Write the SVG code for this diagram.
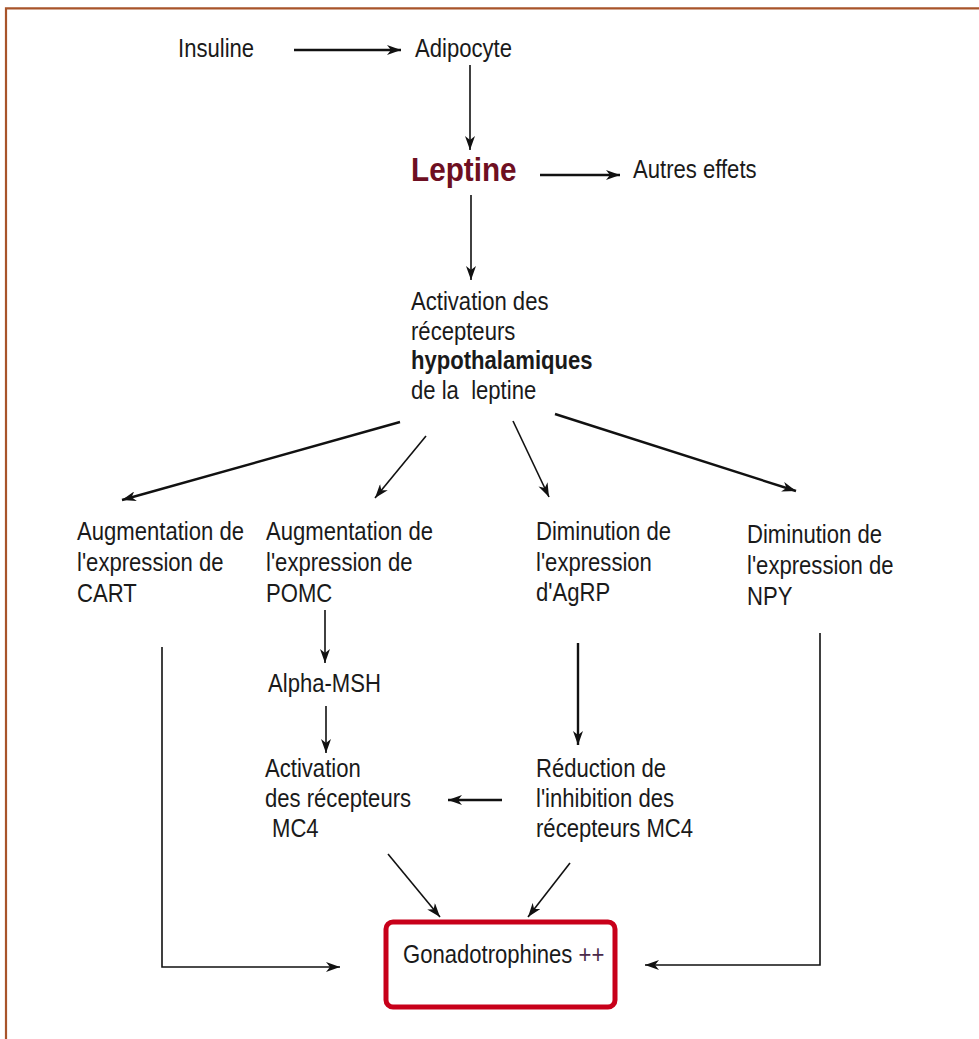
<svg xmlns="http://www.w3.org/2000/svg" width="979" height="1039" viewBox="0 0 979 1039">
  <defs>
    <marker id="arrow" viewBox="0 0 14 10" refX="14" refY="5" markerWidth="14" markerHeight="10" markerUnits="userSpaceOnUse" orient="auto">
      <path d="M0,0 L14,5 L0,10 L4,5 z" fill="#111"/>
    </marker>
    <style>
      text { font-family: "Liberation Sans", Arial, sans-serif; font-size: 26px; fill: #1a1a1a;
             transform-box: fill-box; transform-origin: left center; transform: scaleX(0.85); white-space: pre; }
      .bold { font-weight: bold; }
      .lep { font-size: 33px; font-weight: bold; fill: #6e0f22; transform: scaleX(0.9); }
      .plus { fill: #4a2a4a; }
      .link { fill: none; stroke: #111; stroke-width: 1.6; }
      .thick { stroke-width: 2.4; }
      .arr { marker-end: url(#arrow); }
    </style>
  </defs>

  <rect width="979" height="1039" fill="#ffffff"/>
  <!-- frame -->
  <path d="M6,1039 V8.3 H979" fill="none" stroke="#a8542a" stroke-width="2.2"/>

  <g id="connectors">
    <line class="link thick arr" x1="294" y1="50" x2="401" y2="50"/>
    <line class="link arr" x1="470" y1="65" x2="470" y2="150"/>
    <line class="link thick arr" x1="540" y1="175" x2="620" y2="175"/>
    <line class="link arr" x1="471" y1="195" x2="471" y2="280"/>
    <line class="link thick arr" x1="400" y1="422" x2="122" y2="500"/>
    <line class="link arr" x1="426" y1="436" x2="375" y2="498"/>
    <line class="link arr" x1="513" y1="421" x2="549" y2="497"/>
    <line class="link thick arr" x1="555" y1="414" x2="796" y2="491"/>
    <line class="link arr" x1="325" y1="610" x2="325" y2="663"/>
    <line class="link arr" x1="326" y1="706" x2="326" y2="753"/>
    <line class="link thick arr" x1="578" y1="643" x2="578" y2="745"/>
    <line class="link thick arr" x1="502" y1="800" x2="448" y2="800"/>
    <line class="link arr" x1="388" y1="854" x2="440" y2="917"/>
    <line class="link arr" x1="570" y1="863" x2="528" y2="917"/>
    <polyline class="link arr" points="162,647 162,967 340,967"/>
    <polyline class="link arr" points="820,633 820,965 645,965"/>
  </g>

  <g id="insuline"><text x="178" y="57">Insuline</text></g>
  <g id="adipocyte"><text x="415" y="57">Adipocyte</text></g>
  <g id="leptine"><text class="lep" x="411" y="181">Leptine</text></g>
  <g id="autres-effets"><text x="633" y="178">Autres effets</text></g>

  <g id="activation-hypothalamus">
    <text x="411" y="310">Activation des</text>
    <text x="411" y="340">récepteurs</text>
    <text class="bold" x="411" y="369">hypothalamiques</text>
    <text x="411" y="399">de la  leptine</text>
  </g>

  <g id="cart">
    <text x="77" y="540">Augmentation de</text>
    <text x="77" y="571">l'expression de</text>
    <text x="77" y="602">CART</text>
  </g>

  <g id="pomc">
    <text x="266" y="540">Augmentation de</text>
    <text x="266" y="571">l'expression de</text>
    <text x="266" y="602">POMC</text>
  </g>

  <g id="agrp">
    <text x="536" y="540">Diminution de</text>
    <text x="536" y="571">l'expression</text>
    <text x="536" y="601">d'AgRP</text>
  </g>

  <g id="npy">
    <text x="747" y="543">Diminution de</text>
    <text x="747" y="574">l'expression de</text>
    <text x="747" y="605">NPY</text>
  </g>

  <g id="alpha-msh"><text x="268" y="692">Alpha-MSH</text></g>

  <g id="activation-mc4">
    <text x="265" y="777">Activation</text>
    <text x="265" y="807">des récepteurs</text>
    <text x="272" y="837">MC4</text>
  </g>

  <g id="reduction-inhibition">
    <text x="536" y="777">Réduction de</text>
    <text x="536" y="807">l'inhibition des</text>
    <text x="536" y="837">récepteurs MC4</text>
  </g>

  <g id="gonadotrophines">
    <rect x="386" y="922" width="229" height="85" rx="7" fill="#ffffff" stroke="#c8001a" stroke-width="5"/>
    <text x="403" y="963">Gonadotrophines <tspan class="plus">++</tspan></text>
  </g>
</svg>
